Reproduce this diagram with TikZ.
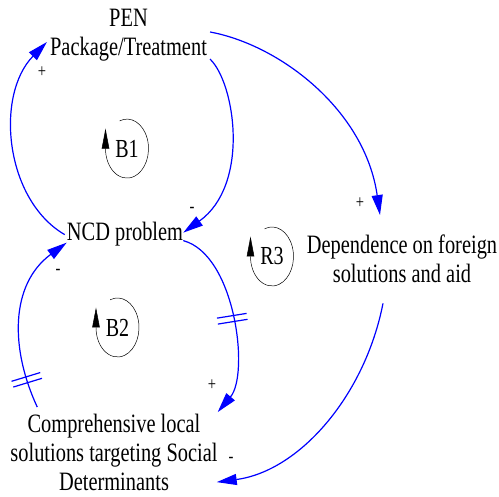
\documentclass[tikz,border=0pt]{standalone}
\usepackage{fontspec}
\setmainfont{Liberation Serif}
\newfontfamily\cldfont[FakeStretch=0.77]{Liberation Serif}
\usetikzlibrary{arrows.meta,decorations.markings}

\tikzset{
  varnode/.style={inner sep=0pt, align=center, font=\cldfont\fontsize{26.5}{29}\selectfont},
  looplbl/.style={inner sep=0pt, font=\cldfont\fontsize{26}{29}\selectfont},
  signlbl/.style={inner sep=0pt, font=\cldfont\fontsize{19}{19}\selectfont},
  linkarrow/.style={draw=blue, line width=1.2pt, -{Triangle[length=20pt,width=11pt]}},
  loopmark/.style={draw=black, line width=0.5pt, -{Triangle[length=20pt,width=7.5pt]}},
  delaymark/.style={postaction={decorate, decoration={markings,
      mark=at position #1 with {\draw[blue, line width=1.2pt, arrows=-]
        (-3pt,-15pt) -- (-3pt,15pt) (3pt,-15pt) -- (3pt,15pt);}}}},
}

\begin{document}
\begin{tikzpicture}[x=1pt,y=-1pt]
\useasboundingbox (0,0) rectangle (499,497);

% variables
\node[varnode] (pen) at (128.5,35.4) {PEN\\Package/Treatment};
\node[varnode, anchor=base] (ncd) at (125,241) {NCD problem};
\node[varnode] (dep) at (402,259.2) {Dependence on foreign\\solutions and aid};
\node[varnode] (comp) at (114,452.6) {Comprehensive local\\solutions targeting Social\\Determinants};

% loop identifiers
\node[looplbl] (b1) at (127,148.6) {B1};
\node[looplbl] (b2) at (117.5,327.5) {B2};
\node[looplbl] (r3) at (272,256.5) {R3};

\foreach \lp in {b1,b2,r3}{
  \draw[loopmark] ([shift={(110:21.5pt and 29.5pt)}]\lp.center)
    arc[start angle=110, end angle=-180, x radius=21.5pt, y radius=29.5pt]
    -- ++(0pt,20pt);
}

% causal links
\draw[linkarrow] ([xshift=3pt,yshift=2.5pt]pen.south east)
  .. controls +(25,24) and +(67,-48) .. ([yshift=2pt]ncd.east);
\draw[linkarrow] ([xshift=-2pt]ncd.west)
  .. controls +(-60,-35) and +(-52,53) .. ([xshift=-3pt,yshift=-6.6pt]pen.west);
\draw[linkarrow] ([xshift=3pt,yshift=3.4pt]pen.east)
  .. controls +(70,13) and +(-15,-105) .. ([xshift=-22pt,yshift=20pt]dep.north);
\draw[linkarrow, delaymark=0.5] ([yshift=-6pt]ncd.east)
  .. controls +(52,14) and +(32,-38) .. ([yshift=2pt]comp.north east);
\draw[linkarrow, delaymark=0.16] ([xshift=27pt,yshift=7pt]comp.north west)
  .. controls +(-27,-58) and +(-57,42) .. ([yshift=-8pt]ncd.west);
\draw[linkarrow] ([xshift=-19pt,yshift=-20pt]dep.south)
  .. controls +(-18,92) and +(83,-11) .. ([xshift=-1pt,yshift=9pt]comp.south east);

% link polarities
\node[signlbl] (s1) at (42,72) {+};
\node[signlbl] (s2) at (192,210) {-};
\node[signlbl] (s3) at (360,203) {+};
\node[signlbl] (s4) at (212,385) {+};
\node[signlbl] (s5) at (58,272) {-};
\node[signlbl] (s6) at (231,460) {-};
\end{tikzpicture}
\end{document}
